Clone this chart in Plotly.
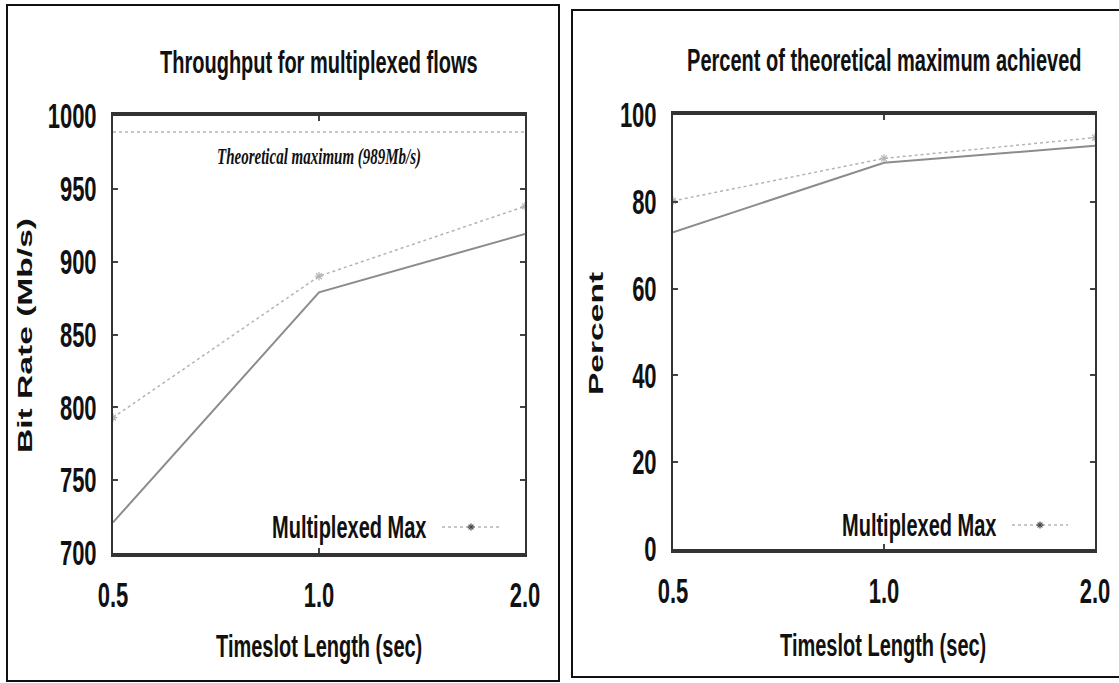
import math
import plotly.graph_objects as go

# ---------------- data ----------------
TIMESLOT = [0.5, 1.0, 2.0]
TIMESLOT_TEXT = ["0.5", "1.0", "2.0"]

THEORETICAL_MAX = 989
MUX_MAX_RATE = [793, 890, 938]     # "Multiplexed Max" (dotted, asterisk markers)
MUX_RATE = [721, 879, 919]         # second series (solid grey)

MUX_MAX_PCT = [80.2, 90.0, 94.8]
MUX_PCT = [73.0, 89.0, 92.9]

RATE_TICKS = [700, 750, 800, 850, 900, 950, 1000]
PCT_TICKS = [0, 20, 40, 60, 80, 100]

LEFT_TITLE = "Throughput for multiplexed flows"
RIGHT_TITLE = "Percent of theoretical maximum achieved"
X_TITLE = "Timeslot Length (sec)"
LEFT_Y_TITLE = "Bit Rate (Mb/s)"
RIGHT_Y_TITLE = "Percent"
LEGEND_NAME = "Multiplexed Max"
THEO_LABEL = "Theoretical maximum (989Mb/s)"

# ---------------- styling ----------------
W, H = 1119, 683
FONT = "Liberation Sans, Arial, sans-serif"
TXT = "#111111"
AXCOL = "#333333"
SOLID_COL = "#8c8c8c"
DOT_COL = "#b4b4b4"
MARK_COL = "#444444"
STRETCH = 1.6   # the reference glyphs are tall and narrow


def px(x):
    return x / W


def py(y):
    return 1 - y / H


fig = go.Figure()

for xa, ya, max_vals, vals in (("x", "y", MUX_MAX_RATE, MUX_RATE),
                                ("x2", "y2", MUX_MAX_PCT, MUX_PCT)):
    fig.add_trace(go.Scatter(
        x=TIMESLOT, y=vals, xaxis=xa, yaxis=ya, mode="lines",
        line=dict(color=SOLID_COL, width=2), showlegend=False))
    fig.add_trace(go.Scatter(
        x=TIMESLOT, y=max_vals, xaxis=xa, yaxis=ya, mode="lines+markers",
        name=LEGEND_NAME,
        line=dict(color=DOT_COL, width=1.5, dash="dot"),
        marker=dict(symbol="asterisk-open", size=7,
                    line=dict(color=MARK_COL, width=1.2)),
        showlegend=False))

# theoretical maximum line
fig.add_trace(go.Scatter(
    x=[TIMESLOT[0], TIMESLOT[-1]], y=[THEORETICAL_MAX, THEORETICAL_MAX],
    xaxis="x", yaxis="y", mode="lines",
    line=dict(color=DOT_COL, width=1.5, dash="dot"), showlegend=False))

xcommon = dict(
    type="log", range=[math.log10(TIMESLOT[0]), math.log10(TIMESLOT[-1])],
    tickvals=TIMESLOT, ticktext=TIMESLOT_TEXT,
    showline=True, linewidth=4, linecolor=AXCOL, mirror="allticks",
    ticks="inside", ticklen=5, tickwidth=1.5, tickcolor=MARK_COL,
    showgrid=False, zeroline=False, automargin=False,
    tickfont=dict(family=FONT, size=22, color=TXT, weight="bold"),
    ticklabelstandoff=19,
)
ycommon = dict(
    showline=True, linewidth=2, linecolor=AXCOL, mirror="allticks",
    ticks="inside", ticklen=5, tickwidth=1.5, tickcolor=MARK_COL,
    showgrid=False, zeroline=False, automargin=False,
    tickfont=dict(family=FONT, size=22, color=TXT, weight="bold"),
    ticklabelstandoff=10,
)

fig.update_layout(
    template="none",
    width=W, height=H, autosize=False,
    margin=dict(l=0, r=0, t=0, b=0, pad=0),
    paper_bgcolor="white", plot_bgcolor="white",
    showlegend=False,
    xaxis=dict(domain=[px(113), px(525)], anchor="y", **xcommon),
    yaxis=dict(domain=[py(553), py(116)], anchor="x",
               range=[RATE_TICKS[0], RATE_TICKS[-1]], tickvals=RATE_TICKS, **ycommon),
    xaxis2=dict(domain=[px(673), px(1095)], anchor="y2", **xcommon),
    yaxis2=dict(domain=[py(549), py(115)], anchor="x2",
                range=[PCT_TICKS[0], PCT_TICKS[-1]], tickvals=PCT_TICKS, **ycommon),
)

shapes = []
# outer panel frames
shapes.append(dict(type="rect", xref="paper", yref="paper",
                   x0=px(7), x1=px(559), y0=py(681), y1=py(5),
                   line=dict(color="#111111", width=2)))
shapes.append(dict(type="rect", xref="paper", yref="paper",
                   x0=px(572), x1=px(1125), y0=py(677), y1=py(10),
                   line=dict(color="#111111", width=2)))
# legend samples: dotted line plus an asterisk point
for x0, x1, yy in ((442, 500, 527), (1012, 1068, 525)):
    shapes.append(dict(type="line", xref="paper", yref="paper",
                       x0=px(x0), x1=px(x1), y0=py(yy), y1=py(yy),
                       line=dict(color=DOT_COL, width=1.5, dash="dot")))
    cx = (x0 + x1) / 2
    r = 3.5
    for dx, dy in ((r, 0), (0, r), (r * 0.7, r * 0.7), (r * 0.7, -r * 0.7)):
        shapes.append(dict(type="line", xref="paper", yref="paper",
                           x0=px(cx - dx), x1=px(cx + dx),
                           y0=py(yy - dy), y1=py(yy + dy),
                           line=dict(color=MARK_COL, width=1.2)))
fig.update_layout(shapes=shapes)

ann = []


def text(x, y, s, size=20, xanchor="center", angle=0, family=FONT, color=TXT,
         weight="bold"):
    ann.append(dict(x=px(x), y=py(y), xref="paper", yref="paper", text=s,
                    showarrow=False, xanchor=xanchor, yanchor="middle",
                    textangle=angle,
                    font=dict(family=family, size=size, color=color, weight=weight)))


text(319, 62, LEFT_TITLE, size=20)
text(884, 60, RIGHT_TITLE, size=20)
text(319, 646, X_TITLE, size=20)
text(883, 645, X_TITLE, size=20)
text(24, 336, LEFT_Y_TITLE, size=21, angle=-90)
text(596, 334, RIGHT_Y_TITLE, size=21, angle=-90)
text(428, 527, LEGEND_NAME, size=20, xanchor="right")
text(998, 525, LEGEND_NAME, size=20, xanchor="right")

# theoretical maximum label, placed in data coordinates
ann.append(dict(x=math.log10(TIMESLOT[1]), y=972, xref="x", yref="y",
                text="<i>" + THEO_LABEL + "</i>", showarrow=False,
                font=dict(family="Liberation Serif, Times New Roman, serif",
                          size=15, color=TXT, weight="bold")))

fig.update_layout(annotations=ann)

POST = """
document.body.style.margin='0';
document.body.style.overflow='hidden';
var S = %s;
document.querySelectorAll('.main-svg text').forEach(function(t){
  if (t.getAttribute('data-st')) return;
  var b = t.getBBox();
  if (!b.width) return;
  var m = t.getScreenCTM();
  var rotated = m && Math.abs(m.a) < 0.5;
  var cx = b.x + b.width/2, cy = b.y + b.height/2;
  var sc = rotated ? ('scale(' + S + ',1)') : ('scale(1,' + S + ')');
  var tr = t.getAttribute('transform') || '';
  t.setAttribute('transform', tr + ' translate(' + cx + ',' + cy + ') ' + sc +
                 ' translate(' + (-cx) + ',' + (-cy) + ')');
  t.setAttribute('data-st', '1');
});
""" % STRETCH

fig.write_html("out.html", config={"displayModeBar": False}, post_script=POST)
